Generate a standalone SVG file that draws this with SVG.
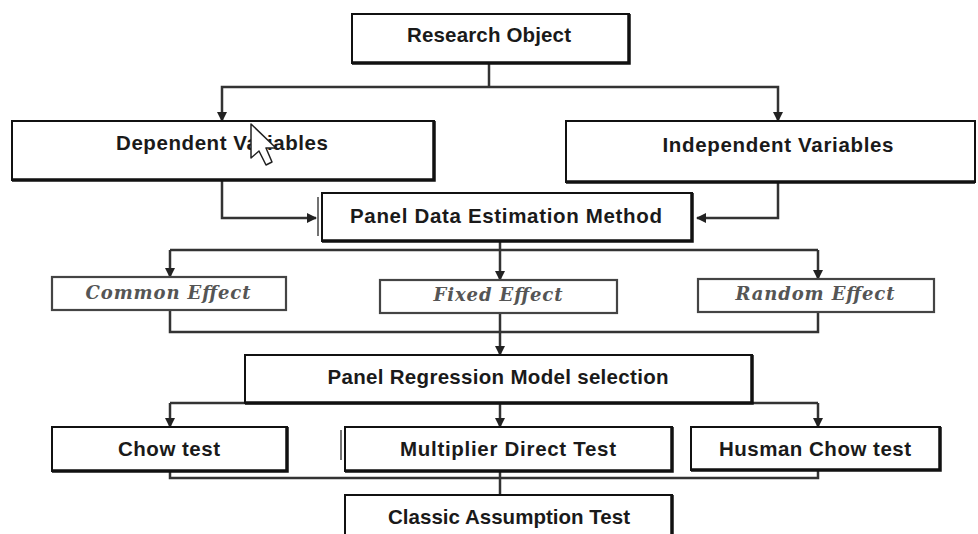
<svg xmlns="http://www.w3.org/2000/svg" width="978" height="534" viewBox="0 0 978 534">
<defs>
<marker id="ah" markerWidth="10" markerHeight="10" refX="9" refY="5" orient="auto" markerUnits="userSpaceOnUse">
<path d="M0,0 L10,5 L0,10 Z" fill="#222"/>
</marker>
<style>
.box{fill:#fff;stroke:#111;stroke-width:2}
.sh{fill:none;stroke:#111;stroke-width:3.5}
.ibox{fill:#fff;stroke:#444;stroke-width:2.2}
.t{font-family:"Liberation Sans",Arial,sans-serif;font-weight:bold;font-size:20.5px;fill:#1a1a1a;text-anchor:middle}
.it{font-family:"DejaVu Serif","Liberation Serif",serif;font-style:italic;font-weight:bold;font-size:18px;fill:#555;text-anchor:middle}
.c{fill:none;stroke:#333;stroke-width:2.5}
.ca{fill:none;stroke:#333;stroke-width:2.5;marker-end:url(#ah)}
</style>
</defs>
<rect width="978" height="534" fill="#fff"/>
<g id="connectors">
<path class="c" d="M489,63 V87"/>
<path class="ca" d="M489,87 H222 V121"/>
<path class="ca" d="M489,87 H778 V121"/>
<path class="ca" d="M222,180 V218 H316"/>
<path class="ca" d="M778,182 V218 H697"/>
<path class="c" d="M500,242 V250 M170,250 H818"/>
<path class="ca" d="M170,250 V277"/>
<path class="ca" d="M500,250 V280"/>
<path class="ca" d="M818,250 V279"/>
<path class="c" d="M170,310 V332 H818 V312"/>
<path class="ca" d="M500,313 V355"/>
<path class="c" d="M170,403 H818"/>
<path class="ca" d="M170,403 V427"/>
<path class="ca" d="M500,403 V427"/>
<path class="ca" d="M818,403 V427"/>
<path class="c" d="M170,471 V478 H818 V470"/>
<path class="c" d="M500,471 V495"/>
</g>
<g id="research-object">
<rect class="box" x="352" y="14" width="277" height="49"/>
<path class="sh" d="M352,63 H629 V14"/>
<text class="t" x="489" y="42" textLength="164">Research Object</text>
</g>
<g id="dependent-variables">
<rect class="box" x="12" y="121" width="422" height="59"/>
<path class="sh" d="M12,180 H434 V121"/>
<text class="t" x="222" y="150" textLength="212">Dependent Variables</text>
<path d="M251,124 L251,158 L259,151 L266,165 L272,162 L266,148 L276,148 Z" fill="#fff" stroke="#222" stroke-width="1.5" stroke-linejoin="round"/>
</g>
<g id="independent-variables">
<rect class="box" x="566" y="121" width="409" height="61"/>
<path class="sh" d="M566,182 H975"/>
<text class="t" x="778" y="152" textLength="231">Independent Variables</text>
</g>
<g id="panel-data-estimation">
<path d="M318,197 V236" stroke="#444" stroke-width="1.5"/>
<rect class="box" x="322" y="193" width="370" height="48"/>
<path class="sh" d="M322,241 H692 V193"/>
<text class="t" x="506" y="223" textLength="312">Panel Data Estimation Method</text>
</g>
<g id="common-effect">
<rect class="ibox" x="52" y="277" width="234" height="33"/>
<text class="it" x="168" y="299" textLength="165">Common Effect</text>
</g>
<g id="fixed-effect">
<rect class="ibox" x="380" y="280" width="237" height="33"/>
<text class="it" x="498" y="301" textLength="129">Fixed Effect</text>
</g>
<g id="random-effect">
<rect class="ibox" x="698" y="279" width="236" height="33"/>
<text class="it" x="815" y="300" textLength="159">Random Effect</text>
</g>
<g id="panel-regression">
<rect class="box" x="245" y="355" width="507" height="48"/>
<path class="sh" d="M245,403 H752 V355"/>
<text class="t" x="498" y="384" textLength="341">Panel Regression Model selection</text>
</g>
<g id="chow-test">
<rect class="box" x="52" y="427" width="235" height="44"/>
<path class="sh" d="M52,471 H287 V427"/>
<text class="t" x="169" y="456" textLength="102">Chow test</text>
</g>
<g id="multiplier-direct-test">
<path d="M341,430 V460" stroke="#444" stroke-width="1.5"/>
<rect class="box" x="345" y="427" width="327" height="44"/>
<path class="sh" d="M345,471 H672 V427"/>
<text class="t" x="508" y="456" textLength="216">Multiplier Direct Test</text>
</g>
<g id="husman-chow-test">
<rect class="box" x="691" y="427" width="249" height="43"/>
<path class="sh" d="M691,470 H940 V427"/>
<text class="t" x="815" y="456" textLength="192">Husman Chow test</text>
</g>
<g id="classic-assumption-test">
<rect class="box" x="345" y="495" width="327" height="50"/>
<path class="sh" d="M672,495 V534"/>
<text class="t" x="509" y="524" textLength="242">Classic Assumption Test</text>
</g>
</svg>
